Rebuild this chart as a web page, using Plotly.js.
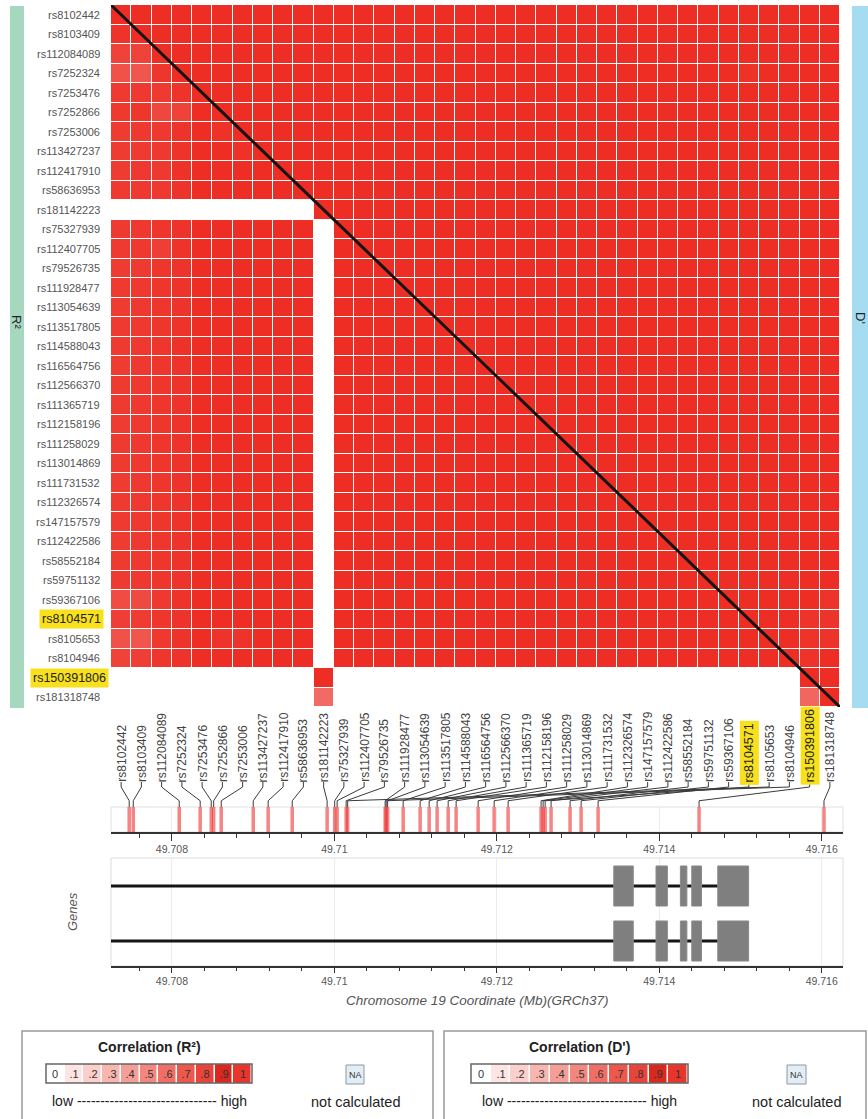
<!DOCTYPE html>
<html><head><meta charset="utf-8">
<script src="https://cdn.plot.ly/plotly-3.0.1.min.js"></script>
<style>html,body{margin:0;padding:0;background:#fff}#chart{width:868px;height:1119px}</style>
</head><body><div id="chart"></div>
<script>
// ---------------- DATA ----------------
const snpIds = ['rs8102442','rs8103409','rs112084089','rs7252324','rs7253476','rs7252866','rs7253006','rs113427237','rs112417910','rs58636953',
  'rs181142223','rs75327939','rs112407705','rs79526735','rs111928477','rs113054639','rs113517805','rs114588043','rs116564756','rs112566370',
  'rs111365719','rs112158196','rs111258029','rs113014869','rs111731532','rs112326574','rs147157579','rs112422586','rs58552184','rs59751132',
  'rs59367106','rs8104571','rs8105653','rs8104946','rs150391806','rs181318748'];
const snpPositionsMb = [49.707474,49.707524,49.708090,49.708348,49.708484,49.708514,49.708607,49.709001,49.709185,49.709481,
  49.709911,49.710004,49.710034,49.710145,49.710625,49.710656,49.710847,49.711056,49.711167,49.711265,
  49.711401,49.711499,49.711770,49.711967,49.712139,49.712545,49.712570,49.712668,49.712902,49.713038,
  49.713247,49.712595,49.710164,49.710638,49.714490,49.716028];
const highlightedSnps = ['rs8104571','rs150391806'];
const N = null;
// R-squared, lower triangle: row i holds columns 0..i-1
const r2Rows = [
 /* 0*/ [],
 /* 1*/ [0.97],
 /* 2*/ [0.9,0.9],
 /* 3*/ [0.82,0.8,0.96],
 /* 4*/ [0.94,0.95,0.94,0.97],
 /* 5*/ [0.95,0.96,0.88,0.9,1],
 /* 6*/ [0.93,0.95,0.95,0.97,1,0.98],
 /* 7*/ [0.93,0.94,0.95,0.97,1,1,0.98],
 /* 8*/ [0.93,0.95,0.95,0.98,1,1,1,1],
 /* 9*/ [0.94,0.95,0.95,0.97,1,1,1,1,1],
 /*10*/ [N,N,N,N,N, N,N,N,N,N],
 /*11*/ [0.94,0.95,0.96,0.97,1, 1,1,1,1,1, N],
 /*12*/ [0.94,0.95,0.92,0.97,1, 1,1,1,1,1, N, 1],
 /*13*/ [0.93,0.94,0.96,0.97,1, 1,1,1,1,1, N, 1,1],
 /*14*/ [0.94,0.95,0.96,0.97,1, 1,1,1,1,1, N, 1,1,1],
 /*15*/ [0.93,0.95,0.96,0.97,1, 1,1,1,1,1, N, 1,1,1,1],
 /*16*/ [0.94,0.95,0.96,0.97,1, 1,1,1,1,1, N, 1,1,1,1,1],
 /*17*/ [0.94,0.95,0.96,0.98,1, 1,1,1,1,1, N, 1,1,1,1,1, 1],
 /*18*/ [0.93,0.95,0.96,0.97,1, 1,1,1,1,1, N, 1,1,1,1,1, 1,1],
 /*19*/ [0.94,0.95,0.96,0.97,1, 1,1,1,1,1, N, 1,1,1,1,1, 1,1,1],
 /*20*/ [0.94,0.95,0.96,0.97,1, 1,1,1,1,1, N, 1,1,1,1,1, 1,1,1,1],
 /*21*/ [0.93,0.95,0.96,0.97,1, 1,1,1,1,1, N, 1,1,1,1,1, 1,1,1,1,1],
 /*22*/ [0.94,0.95,0.96,0.97,1, 1,1,1,1,1, N, 1,1,1,1,1, 1,1,1,1,1, 1],
 /*23*/ [0.94,0.95,0.96,0.97,1, 1,1,1,1,1, N, 1,1,1,1,1, 1,1,1,1,1, 1,1],
 /*24*/ [0.93,0.95,0.96,0.97,1, 1,1,1,1,1, N, 1,1,1,1,1, 1,1,1,1,1, 1,1,1],
 /*25*/ [0.94,0.95,0.96,0.97,1, 1,1,1,1,1, N, 1,1,1,1,1, 1,1,1,1,1, 1,1,1,1],
 /*26*/ [0.94,0.95,0.96,0.97,1, 1,1,1,1,1, N, 1,1,1,1,1, 1,1,1,1,1, 1,1,1,1,1],
 /*27*/ [0.93,0.95,0.96,0.97,1, 1,1,1,1,1, N, 1,1,1,1,1, 1,1,1,1,1, 1,1,1,1,1, 1],
 /*28*/ [0.94,0.95,0.96,0.97,1, 1,1,1,1,1, N, 1,1,1,1,1, 1,1,1,1,1, 1,1,1,1,1, 1,1],
 /*29*/ [0.94,0.95,0.96,0.97,1, 1,1,1,1,1, N, 1,1,1,1,1, 1,1,1,1,1, 1,1,1,1,1, 1,1,1],
 /*30*/ [0.85,0.86,0.95,0.97,1, 1,1,1,1,1, N, 1,1,1,1,1, 1,1,1,1,1, 1,1,1,1,1, 1,1,1,1],
 /*31*/ [0.92,0.93,0.96,0.97,1, 1,1,1,1,1, N, 1,1,1,1,1, 1,1,1,1,1, 1,1,1,1,1, 1,1,1,1,1],
 /*32*/ [0.82,0.8,0.95,0.97,1, 0.97,0.97,1,1,1, N, 1,1,1,1,1, 1,1,1,1,1, 1,1,1,1,1, 1,1,1,1,1, 1],
 /*33*/ [0.9,0.92,0.96,0.97,1, 1,1,1,1,1, N, 1,1,1,1,1, 1,1,1,1,1, 1,1,1,1,1, 1,1,1,1,1, 1,1],
 /*34*/ [N,N,N,N,N, N,N,N,N,N, 1, N,N,N,N,N, N,N,N,N,N, N,N,N,N,N, N,N,N,N,N, N,N,N],
 /*35*/ [N,N,N,N,N, N,N,N,N,N, 0.7, N,N,N,N,N, N,N,N,N,N, N,N,N,N,N, N,N,N,N,N, N,N,N, 0.72]
];
// D', upper triangle: row i holds columns i+1..35
const dPrimeRows = [
 /* 0*/ [1,1,1,1,1, 1,1,1,1,1, 1,1,1,1,1, 1,1,1,1,1, 1,1,1,1,1, 1,1,1,1,1, 1,1,1,1,1],
 /* 1*/ [1,1,1,1,1, 1,1,1,1,1, 1,1,1,1,1, 1,1,1,1,1, 1,1,1,1,1, 1,1,1,1,1, 1,1,1,1],
 /* 2*/ [1,1,1,1,1, 1,1,1,1,1, 1,1,1,1,1, 1,1,1,1,1, 1,1,1,1,1, 1,1,1,1,1, 1,1,1],
 /* 3*/ [1,1,1,1,1, 1,1,1,1,1, 1,1,1,1,1, 1,1,1,1,1, 1,1,1,1,1, 1,1,0.98,1,1, 1,1],
 /* 4*/ [1,1,1,1,1, 1,1,1,1,1, 1,1,1,1,1, 1,1,1,1,1, 1,1,1,1,1, 1,1,1,1,1, 1],
 /* 5*/ [1,1,1,1,1, 1,1,1,1,1, 1,1,1,1,1, 1,1,1,1,1, 1,1,1,1,1, 1,1,1,1,1],
 /* 6*/ [1,1,1,1,1, 1,1,1,1,1, 1,1,1,1,1, 1,1,1,1,1, 1,1,1,1,1, 1,1,1,1],
 /* 7*/ [1,1,1,1,1, 1,1,1,1,1, 1,1,1,1,1, 1,1,1,1,1, 1,1,1,1,1, 1,1,1],
 /* 8*/ [1,1,1,1,1, 1,1,1,1,1, 1,1,1,1,1, 1,1,1,1,1, 1,1,1,1,1, 1,1],
 /* 9*/ [1,1,1,1,1, 1,1,1,1,1, 1,1,1,1,1, 1,1,1,1,1, 1,1,1,1,1, 1],
 /*10*/ [1,1,1,1,1, 1,1,1,1,1, 1,1,1,1,1, 1,1,1,1,1, 1,1,1,1,1],
 /*11*/ [1,1,1,1,1, 1,1,1,1,1, 1,1,1,1,1, 1,1,1,1,1, 1,1,1,1],
 /*12*/ [1,1,1,1,1, 1,1,1,1,1, 1,1,1,1,1, 1,1,1,1,1, 1,1,1],
 /*13*/ [1,1,1,1,1, 1,1,1,1,1, 1,1,1,1,1, 1,1,1,1,1, 1,1],
 /*14*/ [1,1,1,1,1, 1,1,1,1,1, 1,1,1,1,1, 1,1,1,1,1, 1],
 /*15*/ [1,1,1,1,1, 1,1,1,1,1, 1,1,1,1,1, 1,1,1,1,1],
 /*16*/ [1,1,1,1,1, 1,1,1,1,1, 1,1,1,1,1, 1,1,1,1],
 /*17*/ [1,1,1,1,1, 1,1,1,1,1, 1,1,1,1,1, 1,1,1],
 /*18*/ [1,1,1,1,1, 1,1,1,1,1, 1,1,1,1,1, 1,1],
 /*19*/ [1,1,1,1,1, 1,1,1,1,1, 1,1,1,1,1, 1],
 /*20*/ [1,1,1,1,1, 1,1,1,1,1, 1,1,1,1,1],
 /*21*/ [1,1,1,1,1, 1,1,1,1,1, 1,1,1,1],
 /*22*/ [1,1,1,1,1, 1,1,1,1,1, 1,1,1],
 /*23*/ [1,1,1,1,1, 1,1,1,1,1, 1,1],
 /*24*/ [1,1,1,1,1, 1,1,1,1,1, 1],
 /*25*/ [1,1,1,1,1, 1,1,1,1,1],
 /*26*/ [1,1,1,1,1, 1,1,1,1],
 /*27*/ [1,1,1,1,1, 1,1,1],
 /*28*/ [1,1,1,1,1, 1,1],
 /*29*/ [1,1,1,1,1, 1],
 /*30*/ [1,1,1,1,0.97],
 /*31*/ [1,1,0.97,0.97],
 /*32*/ [1,0.97,0.97],
 /*33*/ [0.97,1],
 /*34*/ [1],
 /*35*/ []
];
const diagonalValues = [1,1,1,1,1,1,1,1,1,1,1,1,1,1,1,1,1,1,1,1,1,1,1,1,1,1,1,1,1,1,1,1,1,1,1,1];
const transcriptRows = [2, 1];
const transcriptStartMb = [49.7068, 49.7068];
const transcriptEndMb = [49.71500, 49.71500];
const exonStartsMb = [49.71344, 49.71396, 49.71426, 49.71440, 49.71472];
const exonEndsMb   = [49.71368, 49.71410, 49.71434, 49.71452, 49.71510];
const legendTickLabels = ['0','.1','.2','.3','.4','.5','.6','.7','.8','.9','1'];
const legendColors = ['#ffffff','#fde5e3','#fbcfcb','#f8b6b1','#f59e98','#f2877f','#ef6f67','#ec574e','#e9443a','#d9281e','#e8362c'];

// ---------------- LAYOUT HELPERS ----------------
const W = 868, H = 1119;
const fx = p => p / W, fy = p => 1 - p / H;
const HM_L = 111, HM_R = 840, HM_T = 5, HM_B = 707;
const G_L = 111, G_R = 843;
const genomicRange = [49.70725, 49.716262];
const nSnp = snpIds.length;
const cellPx = (HM_R - HM_L) / nSnp;
const colCenterMb = i => {
  const cx = HM_L + (i + 0.5) * cellPx;
  return genomicRange[0] + (cx - G_L) / (G_R - G_L) * (genomicRange[1] - genomicRange[0]);
};
const FONT = 'Liberation Sans, Arial, sans-serif';
const HL = '#f8e11c';

// matrix
const z = [];
for (let i = 0; i < nSnp; i++) {
  const row = [];
  for (let j = 0; j < nSnp; j++) {
    let v;
    if (j < i) v = r2Rows[i][j];
    else if (j > i) v = dPrimeRows[i][j - i - 1];
    else v = diagonalValues[i];
    row.push(v === undefined ? null : v);
  }
  z.push(row);
}
const idx = snpIds.map((_, i) => i);

const traces = [];
traces.push({type:'heatmap', z: z, x: idx, y: idx, xaxis:'x', yaxis:'y',
  colorscale:[[0,'#ffffff'],[0.5,'#f4928c'],[0.8,'#f0564e'],[0.9,'#ef4239'],[1,'#ee2e24']],
  zmin:0, zmax:1, showscale:false, xgap:1, ygap:1, hoverinfo:'skip'});
traces.push({type:'scatter', mode:'lines', x:[-0.5, nSnp-0.5], y:[-0.5, nSnp-0.5], xaxis:'x', yaxis:'y',
  line:{color:'#141414', width:3}, cliponaxis:false, hoverinfo:'skip'});

// connectors
const cx = [], cy = [];
snpIds.forEach((s, i) => {
  const c = colCenterMb(i), p = snpPositionsMb[i];
  cx.push(c, c, p, p, null); cy.push(1, 0.8, 0.25, 0, null);
});
traces.push({type:'scatter', mode:'lines', x:cx, y:cy, xaxis:'x3', yaxis:'y3',
  line:{color:'#3a3a3a', width:1}, hoverinfo:'skip'});

// SNP track bars
const tx = [], ty = [];
snpPositionsMb.forEach(p => { tx.push(p, p, null); ty.push(0, 1, null); });
traces.push({type:'scatter', mode:'lines', x:tx, y:ty, xaxis:'x2', yaxis:'y2',
  line:{color:'rgba(238,50,50,0.6)', width:3.5}, hoverinfo:'skip'});

// genes
const exonHalf = 0.364;
transcriptRows.forEach((r, t) => {
  traces.push({type:'scatter', mode:'lines', x:[transcriptStartMb[t], transcriptEndMb[t]], y:[r, r],
    xaxis:'x4', yaxis:'y4', line:{color:'#151515', width:3}, hoverinfo:'skip'});
  const ex = [], ey = [];
  exonStartsMb.forEach((s, k) => {
    const e = exonEndsMb[k];
    ex.push(s, e, e, s, s, null); ey.push(r-exonHalf, r-exonHalf, r+exonHalf, r+exonHalf, r-exonHalf, null);
  });
  traces.push({type:'scatter', mode:'lines', x:ex, y:ey, xaxis:'x4', yaxis:'y4', fill:'toself',
    fillcolor:'#7f7f7f', line:{color:'#8a8a8a', width:1}, hoverinfo:'skip'});
});

// legend strips
const legIdx = legendTickLabels.map((_, k) => k);
const legScale = legendColors.map((c, k) => [k / (legendColors.length - 1), c]);
['x5','x6'].forEach((ax, n) => {
  traces.push({type:'heatmap', z:[legIdx], x:legIdx, y:[0], text:[legendTickLabels], texttemplate:'%{text}',
    textfont:{size:11, color:'#333', family:FONT}, xaxis:ax, yaxis: n === 0 ? 'y5' : 'y6',
    colorscale:legScale, zmin:0, zmax:legendColors.length-1, showscale:false, xgap:1.5, hoverinfo:'skip'});
});

// ---------------- ANNOTATIONS ----------------
const ann = [];
const txt = (x, y, text, font, extra) => Object.assign({xref:'paper', yref:'paper', x:fx(x), y:fy(y), text:text,
  showarrow:false, xanchor:'center', yanchor:'middle', font:Object.assign({family:FONT}, font)}, extra || {});
snpIds.forEach((s, i) => {
  const hl = highlightedSnps.includes(s);
  ann.push({xref:'paper', yref:'y', x: fx(hl ? (s === 'rs150391806' ? 109 : 104) : 101), y:i, xanchor:'right', yanchor:'middle',
    text:s, showarrow:false, font:{family:FONT, size: hl ? 12.5 : 11, color: hl ? '#222' : '#555'},
    bgcolor: hl ? HL : 'rgba(0,0,0,0)', borderpad: hl ? 2 : 0});
  ann.push({xref:'x', yref:'paper', x:i, y: fy(hl ? 785 : 783), xanchor:'center', yanchor:'bottom', textangle:-90,
    text:s, showarrow:false, font:{family:FONT, size: hl ? 12.5 : 12, color: hl ? '#222' : '#444'},
    bgcolor: hl ? HL : 'rgba(0,0,0,0)', borderpad: hl ? 2 : 0});
});
ann.push(txt(17, 322, 'R²', {size:13, color:'#222'}, {textangle:90}));
ann.push(txt(860, 318, "D'", {size:13, color:'#222'}, {textangle:90}));
ann.push(txt(72, 912, 'Genes', {size:13, color:'#555', style:'italic'}, {textangle:-90}));
ann.push(txt((G_L+G_R)/2, 1000, 'Chromosome 19 Coordinate (Mb)(GRCh37)', {size:13.5, color:'#555', style:'italic'}));
const legendDefs = [
  {title:'Correlation (R²)', stripL:46, stripR:252, naL:346, naR:364, ncX:355},
  {title:"Correlation (D')", stripL:471, stripR:688, naL:787, naR:806, ncX:796}
];
legendDefs.forEach(d => {
  const c = (d.stripL + d.stripR) / 2;
  ann.push(txt(c, 1047, '<b>'+d.title+'</b>', {size:14, color:'#222'}));
  ann.push(txt(c, 1101, 'low ------------------------------ high', {size:14, color:'#222'}));
  ann.push(txt((d.naL+d.naR)/2, 1074.5, 'NA', {size:9, color:'#333'}));
  ann.push(txt(d.ncX, 1102, 'not calculated', {size:14.5, color:'#222'}));
});

// ---------------- SHAPES ----------------
const shapes = [
  {type:'rect', xref:'paper', yref:'paper', x0:fx(10), x1:fx(24), y0:fy(708), y1:fy(6), fillcolor:'#a6d8c0', line:{width:0}, layer:'below'},
  {type:'rect', xref:'paper', yref:'paper', x0:fx(852), x1:fx(870), y0:fy(708), y1:fy(6), fillcolor:'#a6dcf1', line:{width:0}, layer:'below'},
  {type:'rect', xref:'x2 domain', yref:'y2 domain', x0:0, x1:1, y0:0, y1:1, line:{color:'#e0e0e0', width:1}, layer:'below'},
  {type:'rect', xref:'x4 domain', yref:'y4 domain', x0:0, x1:1, y0:0, y1:1, line:{color:'#dcdcdc', width:1}, layer:'below'},
  {type:'rect', xref:'paper', yref:'paper', x0:fx(22), x1:fx(433), y0:fy(1125), y1:fy(1031), line:{color:'#9a9a9a', width:1.5}},
  {type:'rect', xref:'paper', yref:'paper', x0:fx(444), x1:fx(866), y0:fy(1125), y1:fy(1031), line:{color:'#9a9a9a', width:1.5}},
  {type:'rect', xref:'x5 domain', yref:'y5 domain', x0:0, x1:1, y0:0, y1:1, line:{color:'#666', width:1.5}},
  {type:'rect', xref:'x6 domain', yref:'y6 domain', x0:0, x1:1, y0:0, y1:1, line:{color:'#666', width:1.5}}
];
legendDefs.forEach(d => {
  shapes.push({type:'rect', xref:'paper', yref:'paper', x0:fx(d.naL), x1:fx(d.naR), y0:fy(1084), y1:fy(1065),
    fillcolor:'#e3edf5', line:{color:'#8b98a5', width:1}, layer:'below'});
});

const hidden = {visible:false, fixedrange:true};
const genAxisCommon = {range:genomicRange, showline:true, linecolor:'#333', linewidth:1.5, ticks:'outside', tickcolor:'#333',
  tick0:49.708, dtick:0.002, tickfont:{family:FONT, size:10.5, color:'#555'}, zeroline:false, fixedrange:true,
  showgrid:true, gridcolor:'#ececec'};
const layout = {
  width:W, height:H, margin:{l:0, r:0, t:0, b:0}, paper_bgcolor:'#fff', plot_bgcolor:'rgba(0,0,0,0)', showlegend:false,
  font:{family:FONT},
  xaxis:Object.assign({}, hidden, {domain:[fx(HM_L), fx(HM_R)], range:[-0.5, nSnp-0.5], anchor:'y'}),
  yaxis:Object.assign({}, hidden, {domain:[fy(HM_B), fy(HM_T)], range:[nSnp-0.5, -0.5], anchor:'x'}),
  xaxis2:Object.assign({}, genAxisCommon, {domain:[fx(G_L), fx(G_R)], anchor:'y2', ticklen:7,
    minor:{tick0:49.708, dtick:0.0004, ticks:'outside', ticklen:4, tickcolor:'#333', showgrid:false}}),
  yaxis2:Object.assign({}, hidden, {domain:[fy(832), fy(807)], range:[0,1], anchor:'x2'}),
  xaxis3:Object.assign({}, hidden, {domain:[fx(G_L), fx(G_R)], range:genomicRange, anchor:'y3'}),
  yaxis3:Object.assign({}, hidden, {domain:[fy(807), fy(782)], range:[0,1], anchor:'x3'}),
  xaxis4:Object.assign({}, genAxisCommon, {domain:[fx(G_L), fx(G_R)], anchor:'y4', ticklen:5,
    minor:{tick0:49.708, dtick:0.0004, ticks:'outside', ticklen:3, tickcolor:'#333', showgrid:false}}),
  yaxis4:Object.assign({}, hidden, {domain:[fy(966), fy(858)], range:[0.5455, 2.509], anchor:'x4'}),
  xaxis5:Object.assign({}, hidden, {domain:[fx(46), fx(252)], range:[-0.5, 10.5], anchor:'y5'}),
  yaxis5:Object.assign({}, hidden, {domain:[fy(1083), fy(1064)], range:[-0.5, 0.5], anchor:'x5'}),
  xaxis6:Object.assign({}, hidden, {domain:[fx(471), fx(688)], range:[-0.5, 10.5], anchor:'y6'}),
  yaxis6:Object.assign({}, hidden, {domain:[fy(1083), fy(1064)], range:[-0.5, 0.5], anchor:'x6'}),
  annotations:ann, shapes:shapes
};
Plotly.newPlot('chart', traces, layout, {displayModeBar:false, staticPlot:true});
</script></body></html>
